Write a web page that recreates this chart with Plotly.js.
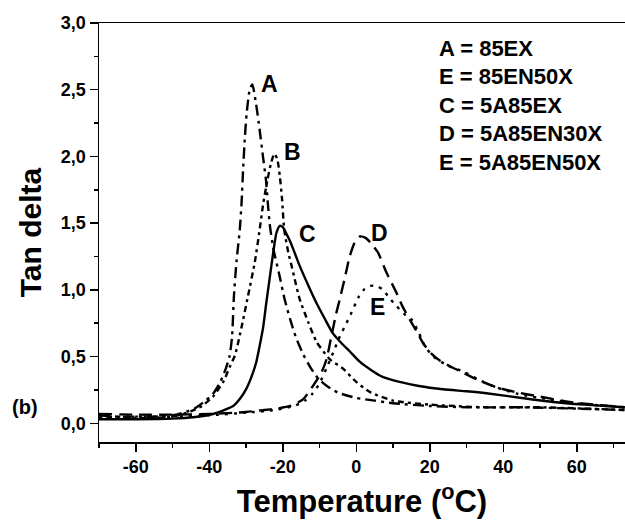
<!DOCTYPE html>
<html>
<head>
<meta charset="utf-8">
<script src="https://cdn.plot.ly/plotly-3.0.1.min.js"></script>
<style>
html,body{margin:0;padding:0;background:#fff;}
#chart{width:625px;height:528px;}
</style>
</head>
<body>
<div id="chart"></div>
<script>
// Curve A = 85EX (dash-dot)
var tempA = [-70,-65,-60,-55,-50,-47,-44,-41,-39,-37,-35.5,-34.5,-33.8,-33.3,-32.6,-31.7,-31.2,-30.8,-30.3,-29.8,-29,-28.3,-27.3,-26.3,-25.4,-24.6,-24.1,-23.5,-22.5,-21,-19.5,-18,-16.5,-14.5,-12.5,-10.5,-8,-5,0,5,10,20,30,45,60,73];
var tanA  = [0.06,0.05,0.05,0.05,0.06,0.08,0.11,0.17,0.22,0.31,0.41,0.5,0.65,0.95,1.21,1.45,1.66,1.9,2.15,2.33,2.5,2.54,2.4,2.2,2.0,1.83,1.66,1.48,1.3,1.12,0.93,0.78,0.65,0.52,0.42,0.34,0.28,0.23,0.19,0.17,0.15,0.13,0.12,0.12,0.11,0.1];

// Curve B = 85EN50X (short dash-dot)
var tempB = [-70,-60,-50,-45,-42,-39,-36,-34.5,-33,-31.3,-29.5,-27.6,-26.3,-25.3,-24.2,-23.2,-22.3,-21.5,-20.8,-20.2,-19.6,-18.5,-17.6,-16.5,-15.4,-13.1,-10.8,-7.2,-3.6,0,4,10,20,35,50,73];
var tanB  = [0.05,0.04,0.05,0.09,0.13,0.2,0.32,0.42,0.51,0.71,0.95,1.21,1.45,1.65,1.82,1.95,2.02,1.98,1.85,1.68,1.45,1.28,1.18,1.05,0.93,0.76,0.61,0.48,0.41,0.31,0.23,0.17,0.14,0.12,0.12,0.1];

// Curve C = 5A85EX (solid)
var tempC = [-70,-60,-50,-44.4,-39,-33.5,-31.5,-29.9,-28.5,-27.2,-26.3,-25.4,-24.5,-23.6,-22.6,-21.7,-20.8,-20,-19,-18.1,-16.8,-15.4,-13,-10.8,-8.5,-6.5,-4,-1.8,1,4,7,11.8,17,23.6,30,35.4,45,53.5,62,73];
var tanC  = [0.03,0.03,0.035,0.045,0.07,0.13,0.19,0.26,0.35,0.46,0.58,0.71,0.9,1.08,1.28,1.43,1.48,1.47,1.42,1.37,1.28,1.18,1.03,0.9,0.78,0.68,0.6,0.54,0.46,0.4,0.35,0.31,0.28,0.255,0.24,0.225,0.19,0.16,0.14,0.12];

// Curve D = 5A85EN30X (long dashes)
var tempD = [-70,-60,-50,-40,-30,-25,-21.7,-18,-14.5,-11.8,-9.5,-8.1,-6.8,-5.5,-4.5,-3.2,-1.8,-0.5,1,2.5,4,5.9,8.2,10.9,12.5,14.5,17,18.2,20.5,22.7,26,29,32.7,38.1,44,50,58,65,73];
var tanD  = [0.07,0.065,0.065,0.07,0.085,0.1,0.11,0.13,0.18,0.28,0.38,0.48,0.65,0.82,0.93,1.08,1.25,1.35,1.4,1.39,1.35,1.28,1.13,0.98,0.88,0.78,0.66,0.6,0.52,0.47,0.42,0.38,0.33,0.27,0.23,0.2,0.16,0.14,0.12];

// Curve E = 5A85EN50X (dotted)
var tempE = [-70,-60,-50,-40,-30,-22,-17,-14,-12,-10,-8,-6,-4.5,-2.7,-1.3,0.5,2,3.7,5.5,7.3,9,10.9,13,15,17,18.6,21,25,29,33,38,44,52,60,73];
var tanE  = [0.05,0.05,0.05,0.06,0.08,0.1,0.13,0.17,0.22,0.3,0.42,0.55,0.65,0.75,0.83,0.94,1.0,1.03,1.03,1.0,0.94,0.88,0.82,0.78,0.68,0.58,0.5,0.43,0.39,0.33,0.27,0.22,0.18,0.15,0.12];

var xTickVals = [-60,-40,-20,0,20,40,60];
var xTickText = ['-60','-40','-20','0','20','40','60'];

var curveLabels = ['A','B','C','D','E'];
var labelX = [-23.5,-17.4,-13.3,6.4,5.7];
var labelY = [2.54,2.03,1.42,1.43,0.87];

var legendLines = ['A = 85EX','E = 85EN50X','C = 5A85EX','D = 5A85EN30X','E = 5A85EN50X'];

var FONT = 'Liberation Sans, Arial, Helvetica, sans-serif';
var LW = 2.4;

var traces = [
  {x: tempA, y: tanA, mode:'lines', line:{color:'#000', width:LW, dash:'11px,5px,3px,5px'}},
  {x: tempB, y: tanB, mode:'lines', line:{color:'#000', width:LW, dash:'3px,4px,6px,4px'}},
  {x: tempC, y: tanC, mode:'lines', line:{color:'#000', width:LW}},
  {x: tempD, y: tanD, mode:'lines', line:{color:'#000', width:LW, dash:'13px,7px'}},
  {x: tempE, y: tanE, mode:'lines', line:{color:'#000', width:LW, dash:'3px,6px'}}
];
traces.forEach(function(t){ t.line.shape = 'spline'; t.line.smoothing = 0.6; t.hoverinfo='skip'; });

var annotations = [];
for (var i = 0; i < curveLabels.length; i++) {
  annotations.push({x: labelX[i], y: labelY[i], xref:'x', yref:'y', text: curveLabels[i], showarrow:false,
    xanchor:'center', yanchor:'middle', font:{family:FONT, size:23, color:'#000', weight:'bold'}});
}
for (var j = 0; j < legendLines.length; j++) {
  annotations.push({x: 21.9, y: 2.81 - j*0.213, xref:'x', yref:'y', text: legendLines[j], showarrow:false,
    xanchor:'left', yanchor:'middle', font:{family:FONT, size:22, color:'#000', weight:'bold'}});
}
annotations.push({x: -0.14, y: 0.12, xref:'paper', yref:'y', text:'(b)', showarrow:false,
  xanchor:'center', yanchor:'middle', font:{family:FONT, size:20, color:'#000', weight:'bold'}});

var layout = {
  width: 625, height: 528,
  margin: {l: 99, r: 0, t: 23, b: 86},
  paper_bgcolor: '#fff', plot_bgcolor: '#fff',
  showlegend: false,
  separators: ',.',
  font: {family: FONT, color: '#000'},
  xaxis: {
    range: [-70, 73.1],
    tickvals: xTickVals, ticktext: xTickText,
    ticks: 'outside', ticklen: 8, tickwidth: 1.5, tickcolor: '#000',
    minor: {ticks:'outside', ticklen: 4, tickwidth: 1.5, tickcolor:'#000', dtick: 10, tick0: 0},
    showline: true, linewidth: 1.5, linecolor: '#000', mirror: true,
    showgrid: false, zeroline: false,
    tickfont: {family: FONT, size: 18, color:'#000', weight:'bold'},
    title: {text: 'Temperature (<sup>o</sup>C)', font: {family: FONT, size: 31, color:'#000', weight:'bold'}, standoff: 14}
  },
  yaxis: {
    range: [-0.14, 3.0],
    dtick: 0.5, tick0: 0, tickformat: '.1f',
    ticks: 'outside', ticklen: 8, tickwidth: 1.5, tickcolor: '#000',
    minor: {ticks:'outside', ticklen: 4, tickwidth: 1.5, tickcolor:'#000', dtick: 0.25, tick0: 0},
    showline: true, linewidth: 1.5, linecolor: '#000',
    showgrid: false, zeroline: false,
    tickfont: {family: FONT, size: 18, color:'#000', weight:'bold'},
    title: {text: 'Tan delta', font: {family: FONT, size: 30, color:'#000', weight:'bold'}, standoff: 10}
  },
  annotations: annotations
};

Plotly.newPlot('chart', traces, layout, {staticPlot: true, displayModeBar: false});
</script>
</body>
</html>
